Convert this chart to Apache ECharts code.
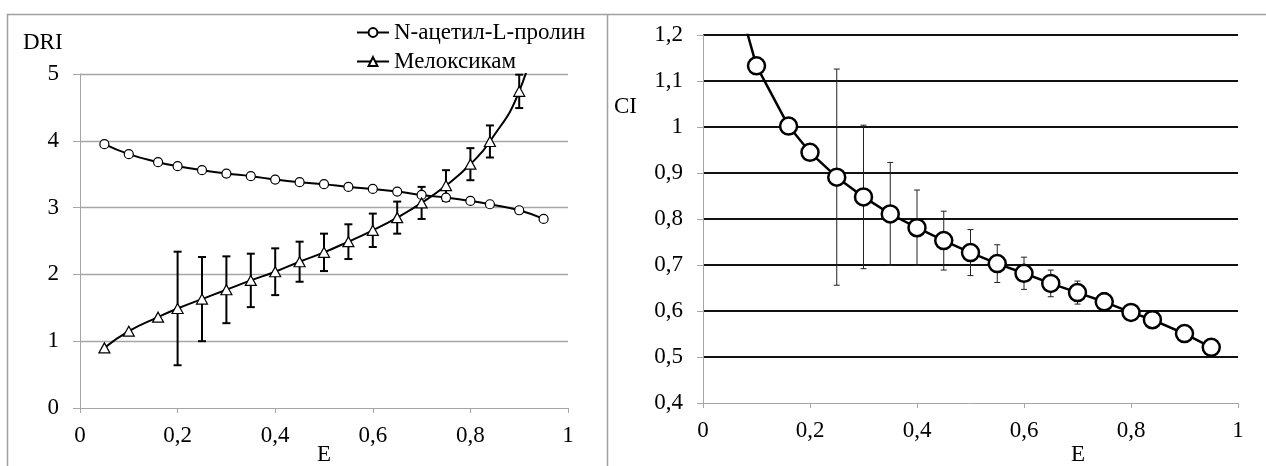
<!DOCTYPE html>
<html>
<head>
<meta charset="utf-8">
<script src="https://cdn.jsdelivr.net/npm/echarts@6/dist/echarts.min.js"></script>
<style>
  html, body { margin: 0; padding: 0; background: #fff; }
  #chart { width: 1266px; height: 466px; }
</style>
</head>
<body>
<div id="chart"></div>
<script>
// Effect level E (shared by both panels)
const effectLevels = [0.05, 0.10, 0.16, 0.20, 0.25, 0.30, 0.35, 0.40, 0.45, 0.50,
                      0.55, 0.60, 0.65, 0.70, 0.75, 0.80, 0.84, 0.90, 0.95];

// Dose reduction index
const driAcetylProline = [3.95, 3.80, 3.68, 3.62, 3.56, 3.51, 3.47, 3.42, 3.38, 3.35,
                          3.31, 3.28, 3.24, 3.19, 3.15, 3.10, 3.05, 2.96, 2.83];
const driMeloxicam = [0.90, 1.15, 1.36, 1.49, 1.63, 1.77, 1.91, 2.04, 2.19, 2.33,
                      2.49, 2.66, 2.85, 3.07, 3.33, 3.65, 3.99, 4.74, 6.00];
const driMeloxicamErr = [0, 0, 0, 0.85, 0.63, 0.50, 0.40, 0.35, 0.30, 0.28,
                         0.26, 0.25, 0.24, 0.24, 0.23, 0.24, 0.24, 0.25, 0];

// Combination index
const ciValues = [1.34, 1.133, 1.002, 0.945, 0.891, 0.848, 0.811, 0.781, 0.753, 0.727,
                  0.703, 0.682, 0.660, 0.640, 0.620, 0.597, 0.581, 0.551, 0.521];
const ciErr = [0, 0, 0, 0, 0.235, 0.156, 0.112, 0.082, 0.064, 0.050,
               0.041, 0.035, 0.029, 0.025, 0.020, 0.010, 0, 0, 0];

// Tick labels (decimal comma)
const eTickLabels = ['0', '0,2', '0,4', '0,6', '0,8', '1'];
const driTickLabels = ['0', '1', '2', '3', '4', '5'];
const ciTickLabels = ['0,4', '0,5', '0,6', '0,7', '0,8', '0,9', '1', '1,1', '1,2'];

const seriesNames = ['N-ацетил-L-пролин', 'Мелоксикам'];

const FONT = '"Times New Roman", "Liberation Serif", serif';
const FS = 23;
const AXIS_GRAY = '#a6a6a6';

const pairs = (xs, ys) => xs.map((x, i) => [x, ys[i]]);
const errRows = (xs, ys, es) => xs
  .map((x, i) => [x, ys[i] - es[i], ys[i] + es[i], es[i]])
  .filter(r => r[3] > 0);

function errorBars(capHalf, width, color) {
  return function (params, api) {
    const x = api.value(0);
    const top = api.coord([x, api.value(2)]);
    const bot = api.coord([x, api.value(1)]);
    const style = { stroke: color, lineWidth: width };
    return {
      type: 'group',
      children: [
        { type: 'line', shape: { x1: top[0], y1: top[1], x2: bot[0], y2: bot[1] }, style },
        { type: 'line', shape: { x1: top[0] - capHalf, y1: top[1], x2: top[0] + capHalf, y2: top[1] }, style },
        { type: 'line', shape: { x1: bot[0] - capHalf, y1: bot[1], x2: bot[0] + capHalf, y2: bot[1] }, style }
      ]
    };
  };
}

function valueAxis(opts) {
  return Object.assign({
    type: 'value',
    axisLine: { show: true, lineStyle: { color: AXIS_GRAY, width: 1 } },
    axisTick: { show: true, length: 6, lineStyle: { color: AXIS_GRAY } },
    axisLabel: { color: '#000', fontFamily: FONT, fontSize: FS },
    splitLine: { show: false }
  }, opts);
}

const chart = echarts.init(document.getElementById('chart'), null, { renderer: 'canvas' });

chart.setOption({
  animation: false,
  backgroundColor: '#fff',
  grid: [
    { left: 80, right: 698, top: 74, bottom: 58 },
    { left: 703, right: 28, top: 35, bottom: 63 }
  ],
  xAxis: [
    valueAxis({
      gridIndex: 0, min: 0, max: 1, interval: 0.2,
      axisTick: { show: true, length: 5, lineStyle: { color: AXIS_GRAY } },
      axisLabel: { color: '#000', fontFamily: FONT, fontSize: FS, margin: 16,
                   formatter: (v, i) => eTickLabels[i] }
    }),
    valueAxis({
      gridIndex: 1, min: 0, max: 1, interval: 0.2,
      axisTick: { show: true, length: 5, lineStyle: { color: AXIS_GRAY } },
      axisLabel: { color: '#000', fontFamily: FONT, fontSize: FS, margin: 16,
                   formatter: (v, i) => eTickLabels[i] }
    })
  ],
  yAxis: [
    valueAxis({
      gridIndex: 0, min: 0, max: 5, interval: 1,
      axisTick: { show: true, length: 7, lineStyle: { color: AXIS_GRAY } },
      axisLabel: { color: '#000', fontFamily: FONT, fontSize: FS, margin: 21,
                   formatter: (v, i) => driTickLabels[i] },
      splitLine: { show: true, showMinLine: false, lineStyle: { color: AXIS_GRAY, width: 1.3 } }
    }),
    valueAxis({
      gridIndex: 1, min: 0.4, max: 1.2, interval: 0.1,
      axisTick: { show: true, length: 6, lineStyle: { color: AXIS_GRAY } },
      axisLabel: { color: '#000', fontFamily: FONT, fontSize: FS, margin: 20,
                   formatter: (v, i) => ciTickLabels[i] },
      splitLine: { show: true, showMinLine: false, lineStyle: { color: '#111', width: 2 } }
    })
  ],
  legend: {
    orient: 'vertical',
    left: 356,
    top: 21,
    itemWidth: 32,
    itemHeight: 11,
    itemGap: 6,
    padding: 0,
    data: seriesNames,
    textStyle: { color: '#000', fontFamily: FONT, fontSize: FS }
  },
  graphic: [
    // chart frames
    { type: 'line', shape: { x1: 7, y1: 14.5, x2: 1266, y2: 14.5 }, style: { stroke: '#a0a0a0', lineWidth: 1.5 } },
    { type: 'line', shape: { x1: 7.5, y1: 14, x2: 7.5, y2: 466 }, style: { stroke: '#a0a0a0', lineWidth: 1.5 } },
    { type: 'line', shape: { x1: 607.5, y1: 14, x2: 607.5, y2: 466 }, style: { stroke: '#a0a0a0', lineWidth: 1.5 } },
    // axis titles
    { type: 'text', left: 23, top: 31, style: { text: 'DRI', font: FS + 'px ' + FONT, fill: '#000' } },
    { type: 'text', left: 614, top: 95, style: { text: 'CI', font: FS + 'px ' + FONT, fill: '#000' } },
    { type: 'text', left: 317, top: 443, style: { text: 'E', font: FS + 'px ' + FONT, fill: '#000' } },
    { type: 'text', left: 1071, top: 443, style: { text: 'E', font: FS + 'px ' + FONT, fill: '#000' } }
  ],
  series: [
    {
      name: 'meloxicam-err',
      type: 'custom',
      xAxisIndex: 0, yAxisIndex: 0,
      z: 1,
      silent: true,
      renderItem: errorBars(4, 2, '#000'),
      data: errRows(effectLevels, driMeloxicam, driMeloxicamErr)
    },
    {
      name: seriesNames[0],
      type: 'line',
      xAxisIndex: 0, yAxisIndex: 0,
      z: 3,
      smooth: true,
      symbol: 'circle',
      symbolSize: 9,
      lineStyle: { color: '#000', width: 2 },
      itemStyle: { color: '#fff', borderColor: '#000', borderWidth: 1.2 },
      data: pairs(effectLevels, driAcetylProline)
    },
    {
      name: seriesNames[1],
      type: 'line',
      xAxisIndex: 0, yAxisIndex: 0,
      z: 3,
      smooth: true,
      symbol: 'triangle',
      symbolSize: [11, 10],
      lineStyle: { color: '#000', width: 2 },
      itemStyle: { color: '#fff', borderColor: '#000', borderWidth: 1.2 },
      data: pairs(effectLevels, driMeloxicam)
    },
    {
      name: 'ci-err',
      type: 'custom',
      xAxisIndex: 1, yAxisIndex: 1,
      z: 1,
      silent: true,
      renderItem: errorBars(3, 1, '#222'),
      data: errRows(effectLevels, ciValues, ciErr)
    },
    {
      name: 'CI',
      type: 'line',
      xAxisIndex: 1, yAxisIndex: 1,
      z: 3,
      smooth: false,
      symbol: 'circle',
      symbolSize: 17,
      lineStyle: { color: '#000', width: 2.5 },
      itemStyle: { color: '#fff', borderColor: '#000', borderWidth: 2.5 },
      data: pairs(effectLevels, ciValues)
    }
  ]
});
</script>
</body>
</html>
